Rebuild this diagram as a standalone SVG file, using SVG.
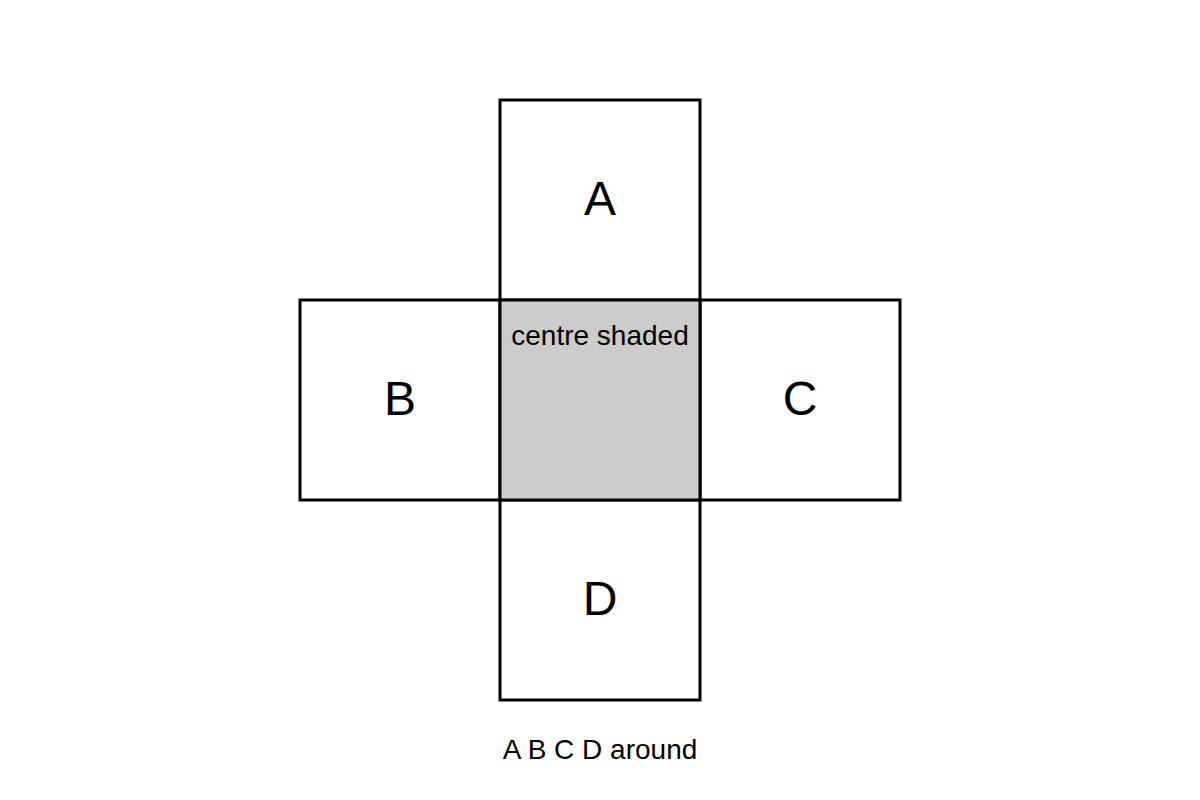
<svg xmlns="http://www.w3.org/2000/svg" width="1200" height="800" viewBox="0 0 1200 800">
<style>
.sq{fill:#fff;stroke:#000;stroke-width:3}
.ctr{fill:#cccccc;stroke:#000;stroke-width:3}
.big{font-family:"Liberation Sans",Arial,sans-serif;font-size:48px;text-anchor:middle;fill:#000}
.sm{font-family:"Liberation Sans",Arial,sans-serif;font-size:28px;text-anchor:middle;fill:#000}
</style>
<rect width="1200" height="800" fill="#fff"/>
<g id="A"><rect class="sq" x="500" y="100" width="200" height="200"/><text class="big" x="600" y="215">A</text></g>
<g id="B"><rect class="sq" x="300" y="300" width="200" height="200"/><text class="big" x="400" y="415">B</text></g>
<g id="C"><rect class="sq" x="700" y="300" width="200" height="200"/><text class="big" x="800" y="415">C</text></g>
<g id="D"><rect class="sq" x="500" y="500" width="200" height="200"/><text class="big" x="600" y="615">D</text></g>
<g id="centre"><rect class="ctr" x="500" y="300" width="200" height="200"/><text class="sm" x="600" y="345">centre shaded</text></g>
<g id="connectors"></g>
<g id="caption"><text class="sm" x="600" y="759">A B C D around</text></g>
</svg>
